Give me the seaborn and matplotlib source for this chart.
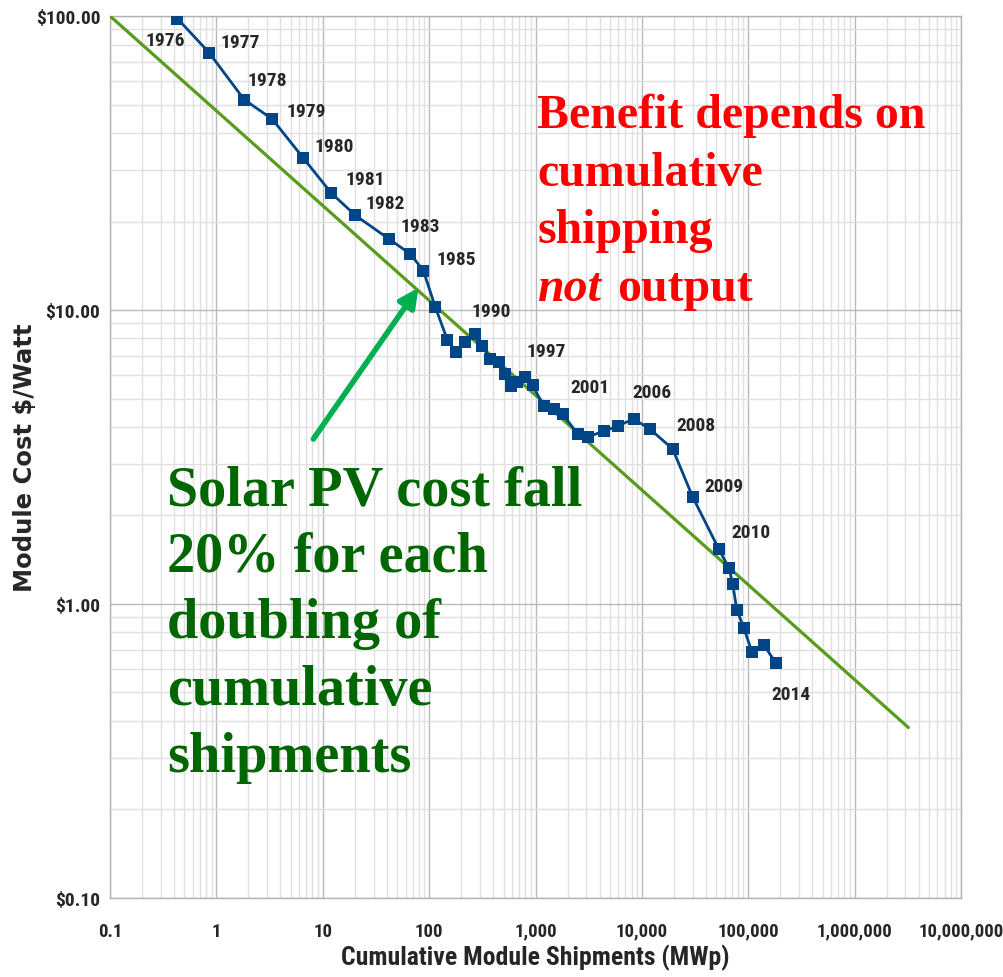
"""Solar PV learning curve: module cost vs cumulative shipments"""
import pandas as pd
import matplotlib
matplotlib.use('Agg')
import matplotlib.pyplot as plt
import matplotlib.font_manager as fm
from matplotlib.ticker import LogLocator, NullFormatter
import seaborn as sns

# Values
shipments_mwp = [0.43, 0.855, 1.82, 3.35, 6.55, 12.0, 20.2, 42.3, 66.7, 88.3,
                 114.6, 148.6, 180, 219, 267, 317, 377, 449, 511, 594,
                 676, 788, 937, 1189, 1476, 1795, 2484, 3085, 4365, 5916,
                 8356, 11830, 19460, 30060, 52720, 65500, 71400, 78000, 90800, 108000,
                 140000, 181500]
cost_per_watt = [98.0, 75.0, 52.0, 44.6, 32.9, 25.0, 21.0, 17.4, 15.5, 13.6,
                 10.2, 7.9, 7.2, 7.78, 8.28, 7.54, 6.81, 6.65, 6.05, 5.51,
                 5.69, 5.92, 5.56, 4.71, 4.60, 4.43, 3.79, 3.70, 3.87, 4.03,
                 4.26, 3.94, 3.37, 2.31, 1.54, 1.33, 1.17, 0.955, 0.83, 0.687,
                 0.726, 0.63]
point_labels = ['1976', '1977', '1978', '1979', '1980', '1981', '1982', '1983', '', '1985',
                '', '', '', '', '1990', '', '', '', '', '',
                '', '1997', '', '', '', '2001', '', '', '', '',
                '2006', '', '2008', '2009', '2010', '', '', '', '', '',
                '', '2014']

# 20% learning-rate trend line (end points)
trend_x = [0.1, 3.2e6]
trend_y = [100.0, 0.38]

x_ticks = [0.1, 1, 10, 100, 1e3, 1e4, 1e5, 1e6, 1e7]
x_tick_labels = ['0.1', '1', '10', '100', '1,000', '10,000', '100,000',
                 '1,000,000', '10,000,000']
y_ticks = [0.1, 1, 10, 100]
y_tick_labels = ['$0.10', '$1.00', '$10.00', '$100.00']

red_lines = ['Benefit depends on', 'cumulative', 'shipping']
red_last = ['not', 'output']
green_lines = ['Solar PV cost fall', '20% for each', 'doubling of',
               'cumulative', 'shipments']

# Styling
BLUE = '#004586'
GREEN = '#579d1c'
ARROW_GREEN = '#00b050'
label_offsets = {'1976': (-12, -21), '1977': (31, 11), '1978': (23, 20),
                 '1979': (34, 8), '1980': (31, 12), '1981': (34, 14),
                 '1982': (30, 12), '1983': (31, 13), '1985': (33, 12),
                 '1990': (17, 23), '1997': (22, 26), '2001': (27, 27),
                 '2006': (18, 27), '2008': (23, 24), '2009': (31, 11),
                 '2010': (32, 17), '2014': (15, -31)}
arrow_tail = (8.15, 3.64)
arrow_head = (79.3, 11.9)

sns.set_style("white")

# pick a narrow bold sans (the chart uses Arial Narrow Bold)
bold_names = {f.name for f in fm.fontManager.ttflist
              if isinstance(f.weight, int) and f.weight >= 600 or f.weight == 'bold'}
candidates = ['Liberation Sans Narrow', 'Arial Narrow', 'Nimbus Sans Narrow',
              'Roboto Condensed', 'PT Sans Narrow', 'Pragati Narrow',
              'Archivo Narrow', 'Barlow Condensed']
found = [c for c in candidates if c in bold_names]
NARROW = found[0] if found else 'Liberation Sans'
SERIF = 'Liberation Serif'

fig = plt.figure(figsize=(10.04, 9.78), dpi=100)
ax = fig.add_axes([0.1096, 0.0808, 0.8476, 0.9018])
ax.set_xscale('log')
ax.set_yscale('log')

df = pd.DataFrame({'shipments': shipments_mwp, 'cost': cost_per_watt, 'label': point_labels})
sns.lineplot(x=trend_x, y=trend_y, color=GREEN, lw=2.3, ax=ax, zorder=3)
sns.lineplot(data=df, x='shipments', y='cost', color=BLUE, lw=2.0, marker='s',
             markersize=8.5, markeredgewidth=0, estimator=None, sort=False,
             ax=ax, zorder=4)

ax.set_xlim(0.1, 1e7)
ax.set_ylim(0.1, 100)

# grid
for axis in (ax.xaxis, ax.yaxis):
    axis.set_minor_locator(LogLocator(base=10, subs=range(2, 10), numticks=100))
    axis.set_minor_formatter(NullFormatter())
ax.grid(which='major', color='#b9b9b9', lw=1.0, zorder=0)
ax.grid(which='minor', color='#e0e0e0', lw=1.0, zorder=0)
ax.set_axisbelow(True)
for sp in ax.spines.values():
    sp.set_color('#b3b3b3')
    sp.set_linewidth(1.0)

ax.set_xticks(x_ticks)
ax.set_xticklabels(x_tick_labels, fontsize=13.5, fontweight='bold', family=NARROW)
ax.set_yticks(y_ticks)
ax.set_yticklabels(y_tick_labels, fontsize=14, fontweight='bold', family=NARROW)
ax.tick_params(axis='x', which='major', length=6, color='#b3b3b3', pad=11)
ax.tick_params(axis='y', which='major', length=5, color='#b3b3b3', pad=2)
ax.tick_params(which='minor', length=0)

ax.set_xlabel('Cumulative Module Shipments (MWp)', fontsize=18.5,
              fontweight='bold', family=NARROW)
ax.xaxis.set_label_coords(0.5, -0.052)
ax.set_ylabel('Module Cost $/Watt', fontsize=17.5, fontweight='bold', family='DejaVu Sans')
ax.yaxis.set_label_coords(-0.086, 0.5)

# year labels
for x, y, lab in zip(df['shipments'], df['cost'], df['label']):
    if lab:
        ax.annotate(lab, (x, y), xytext=label_offsets[lab], textcoords='offset pixels',
                    ha='center', va='center', fontsize=14, fontweight='bold',
                    family=NARROW, zorder=5)

# arrow
ax.annotate('', xy=arrow_head, xytext=arrow_tail,
            arrowprops=dict(arrowstyle='-|>', lw=4, color=ARROW_GREEN,
                            mutation_scale=28, shrinkA=0, shrinkB=0), zorder=5)

# red statement
rx, ry, rdy = 0.5018, 0.8741, 0.0652
for i, line in enumerate(red_lines):
    ax.text(rx, ry - i * rdy, line, transform=ax.transAxes, color='red',
            fontsize=34.5, fontweight='bold', family=SERIF, va='baseline', ha='left')
t_not = ax.text(rx, ry - 3 * rdy, red_last[0], transform=ax.transAxes, color='red',
                fontsize=34.5, fontweight='bold', fontstyle='italic', family=SERIF,
                va='baseline', ha='left')
ax.annotate(red_last[1], xy=(1, 0), xycoords=t_not, xytext=(12, 0),
            textcoords='offset points', color='red', fontsize=34.5,
            fontweight='bold', family=SERIF, va='bottom', ha='left')

# green statement
gx, gy, gdy = 0.067, 0.4467, 0.0756
for i, line in enumerate(green_lines):
    ax.text(gx, gy - i * gdy, line, transform=ax.transAxes, color='#006600',
            fontsize=40.5, fontweight='bold', family=SERIF, va='baseline', ha='left')

fig.savefig('out.png', dpi=100)
